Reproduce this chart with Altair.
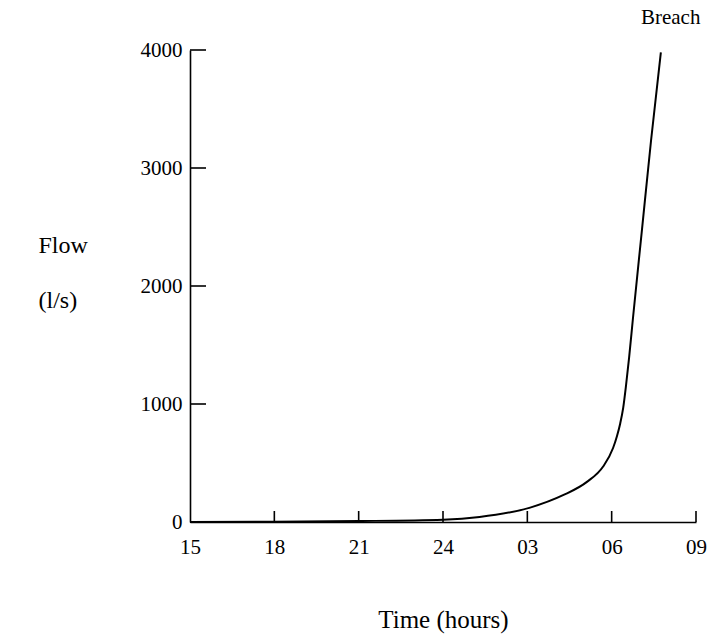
import altair as alt
import pandas as pd

# Flow curve (hours after 15:00, flow in l/s)
hours = [0, 3, 6, 9.0, 10.3, 12.1, 13.27, 14.12, 14.69, 15.05, 15.19, 15.30, 15.41, 15.51, 15.62, 15.76, 16.08, 16.40, 16.75]
flow = [0, 3, 8, 20, 43, 122, 227, 340, 468, 627, 729, 831, 967, 1155, 1393, 1733, 2482, 3231, 3980]

x_tick_values = [0, 3, 6, 9, 12, 15, 18]
x_tick_labels = ["15", "18", "21", "24", "03", "06", "09"]
y_tick_values = [0, 1000, 2000, 3000, 4000]

FONT = "Liberation Serif"
W, H = 506, 472

df = pd.DataFrame({"h": hours, "flow": flow})
xt = pd.DataFrame({"h": x_tick_values[1:]})
yt = pd.DataFrame({"flow": y_tick_values[1:]})
ann = pd.DataFrame({"h": [17.1], "flow": [4000], "label": ["Breach"]})

label_expr = "[" + ",".join("'%s'" % s for s in x_tick_labels) + "][round(datum.value/3)]"

xscale = alt.Scale(domain=[0, 18], nice=False, zero=False)
yscale = alt.Scale(domain=[0, 4000], nice=False)

xaxis = alt.Axis(values=x_tick_values, labelExpr=label_expr, ticks=False, grid=False,
                 domainColor="black", domainWidth=1.6, labelFont=FONT, labelFontSize=21,
                 labelColor="black", labelPadding=14, labelFlush=False,
                 title="Time (hours)", titleFont=FONT,
                 titleFontSize=25, titleFontWeight="normal", titleColor="black", titlePadding=50)
yaxis = alt.Axis(values=y_tick_values, ticks=False, grid=False, domainColor="black",
                 domainWidth=1.6, labelFont=FONT, labelFontSize=21, labelColor="black",
                 labelPadding=8, labelFlush=False, format="d",
                 title=["Flow", "(l/s)"], titleFont=FONT, titleFontSize=24,
                 titleFontWeight="normal", titleColor="black", titleAngle=0,
                 titleAlign="left", titleBaseline="middle", titleX=-152, titleY=195,
                 titleLineHeight=55)

line = alt.Chart(df).mark_line(color="black", strokeWidth=2, interpolate="monotone").encode(
    x=alt.X("h:Q", scale=xscale, axis=xaxis),
    y=alt.Y("flow:Q", scale=yscale, axis=yaxis),
)

xticks = alt.Chart(xt).mark_rule(color="black", strokeWidth=1.6).encode(
    x=alt.X("h:Q", scale=xscale),
    y=alt.value(H),
    y2=alt.value(H - 11),
)

yticks = alt.Chart(yt).mark_rule(color="black", strokeWidth=1.6).encode(
    y=alt.Y("flow:Q", scale=yscale),
    x=alt.value(0),
    x2=alt.value(16),
)

text = alt.Chart(ann).mark_text(font=FONT, fontSize=21, color="black", dy=-32, clip=False).encode(
    x=alt.X("h:Q", scale=xscale),
    y=alt.Y("flow:Q", scale=yscale),
    text="label:N",
)

chart = alt.layer(line, xticks, yticks, text).properties(
    width=W, height=H,
    padding={"left": 190, "top": 50, "right": 13, "bottom": 117},
    autosize=alt.AutoSizeParams(type="none"),
    background="white",
).configure_view(stroke=None)

chart.save("out.html", embed_options={"renderer": "svg", "actions": False})
